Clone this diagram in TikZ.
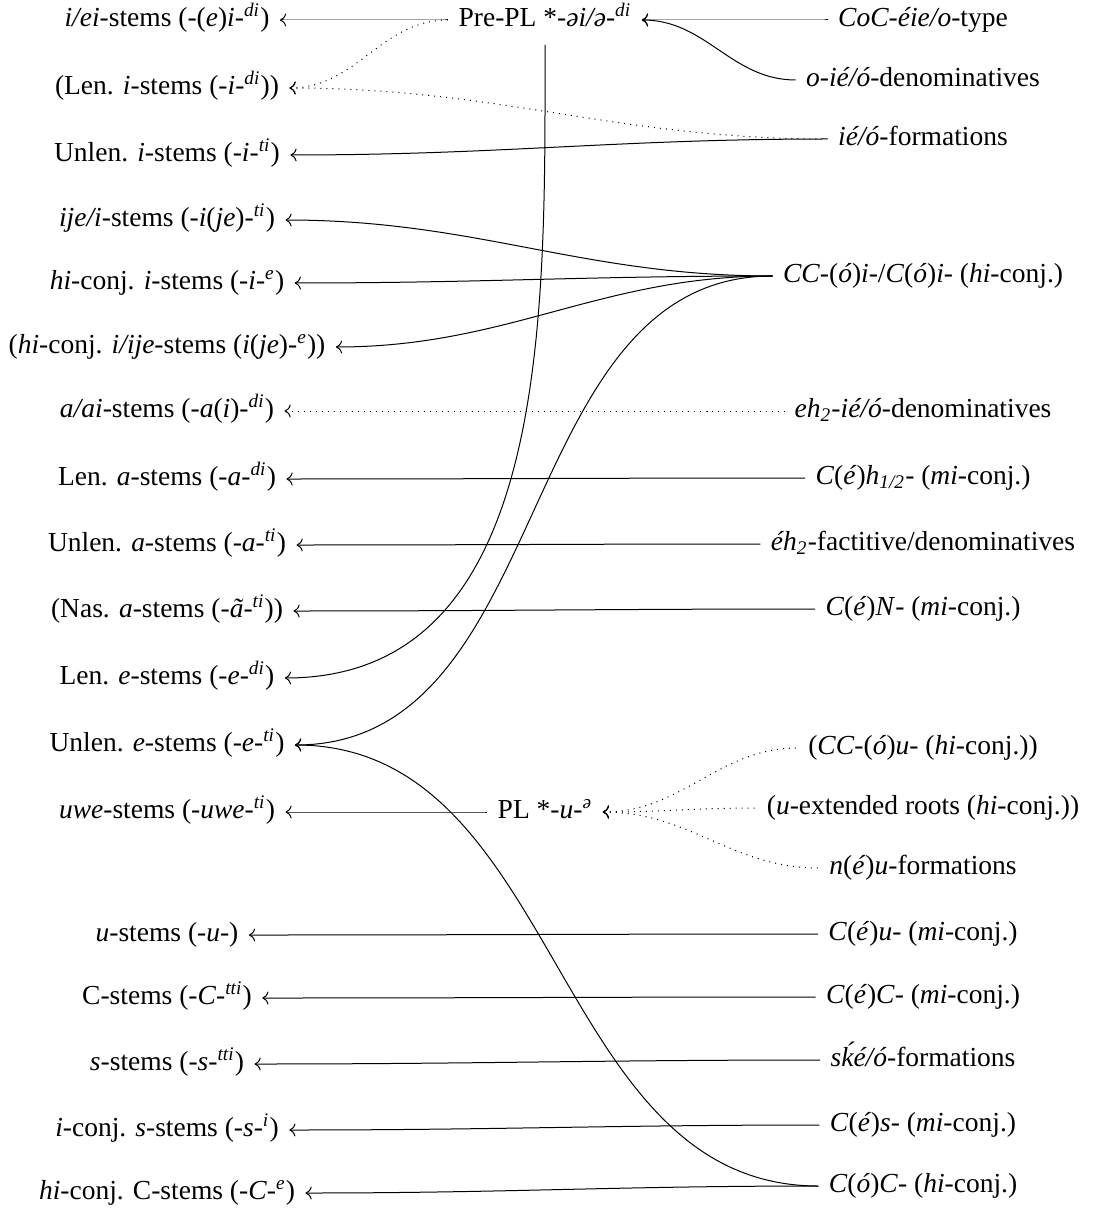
\documentclass[tikz,border=0pt]{standalone}
\usepackage{fontspec}
\setmainfont{Liberation Serif}
\usetikzlibrary{arrows.meta}

\begin{document}
\begin{tikzpicture}[x=0.4pt,y=-0.4pt,font=\fontsize{11}{13}\selectfont,
    lab/.style={inner sep=4pt,text height=8.5pt,text depth=3pt},
    link/.style={<-,out=0,in=180},
    weak/.style={link,dotted}]
  \useasboundingbox (0,0) rectangle (1094,1211);
  % Left column (stem classes)
  \node[lab] (L1) at (167,20) {\textit{i/ei}-stems (-(\textit{e})\textit{i}-\textsuperscript{\textit{di}})};
  \node[lab] (L2) at (167,88) {(Len. \textit{i}-stems (-\textit{i}-\textsuperscript{\textit{di}}))};
  \node[lab] (L3) at (167,155) {Unlen. \textit{i}-stems (-\textit{i}-\textsuperscript{\textit{ti}})};
  \node[lab] (L4) at (167,220) {\textit{ije/i}-stems (-\textit{i}(\textit{je})-\textsuperscript{\textit{ti}})};
  \node[lab] (L5) at (167,283) {\textit{hi}-conj. \textit{i}-stems (-\textit{i}-\textsuperscript{\textit{e}})};
  \node[lab] (L6) at (167,347) {(\textit{hi}-conj. \textit{i/ije}-stems (\textit{i}(\textit{je})-\textsuperscript{\textit{e}}))};
  \node[lab] (L7) at (167,411) {\textit{a/ai}-stems (-\textit{a}(\textit{i})-\textsuperscript{\textit{di}})};
  \node[lab] (L8) at (167,479) {Len. \textit{a}-stems (-\textit{a}-\textsuperscript{\textit{di}})};
  \node[lab] (L9) at (167,545) {Unlen. \textit{a}-stems (-\textit{a}-\textsuperscript{\textit{ti}})};
  \node[lab] (L10) at (167,611) {(Nas. \textit{a}-stems (-\textit{ã}-\textsuperscript{\textit{ti}}))};
  \node[lab] (L11) at (167,678) {Len. \textit{e}-stems (-\textit{e}-\textsuperscript{\textit{di}})};
  \node[lab] (L12) at (167,745) {Unlen. \textit{e}-stems (-\textit{e}-\textsuperscript{\textit{ti}})};
  \node[lab] (L13) at (167,812) {\textit{uwe}-stems (-\textit{uwe}-\textsuperscript{\textit{ti}})};
  \node[lab] (L14) at (167,935) {\textit{u}-stems (-\textit{u}-)};
  \node[lab] (L15) at (167,998) {C-stems (-\textit{C}-\textsuperscript{\textit{tti}})};
  \node[lab] (L16) at (167,1064) {\textit{s}-stems (-\textit{s}-\textsuperscript{\textit{tti}})};
  \node[lab] (L17) at (167,1130) {\textit{i}-conj. \textit{s}-stems (-\textit{s}-\textsuperscript{\textit{i}})};
  \node[lab] (L18) at (167,1193) {\textit{hi}-conj. C-stems (-\textit{C}-\textsuperscript{\textit{e}})};
  % Middle column
  \node[lab] (M1) at (545,20) {Pre-PL *-\textit{əi/ə}-\textsuperscript{\textit{di}}};
  \node[lab] (M2) at (545,812) {PL *-\textit{u}-\textsuperscript{\textit{ə}}};
  % Right column (formations)
  \node[lab] (R1) at (923,20) {\textit{CoC-éie/o}-type};
  \node[lab] (R2) at (923,80) {\textit{o-ié/ó}-denominatives};
  \node[lab] (R3) at (923,139) {\textit{ié/ó}-formations};
  \node[lab] (R4) at (923,276) {\textit{CC}-(\textit{ó})\textit{i}-/\textit{C}(\textit{ó})\textit{i}- (\textit{hi}-conj.)};
  \node[lab] (R5) at (923,411) {\textit{eh\textsubscript{2}-ié/ó}-denominatives};
  \node[lab] (R6) at (923,478) {\textit{C}(\textit{é})\textit{h\textsubscript{1/2}}- (\textit{mi}-conj.)};
  \node[lab] (R7) at (923,544) {\textit{éh\textsubscript{2}}-factitive/denominatives};
  \node[lab] (R8) at (923,609) {\textit{C}(\textit{é})\textit{N}- (\textit{mi}-conj.)};
  \node[lab] (R9) at (923,748) {(\textit{CC}-(\textit{ó})\textit{u}- (\textit{hi}-conj.))};
  \node[lab] (R10) at (923,808) {(\textit{u}-extended roots (\textit{hi}-conj.))};
  \node[lab] (R11) at (923,868) {\textit{n}(\textit{é})\textit{u}-formations};
  \node[lab] (R12) at (923,934) {\textit{C}(\textit{é})\textit{u}- (\textit{mi}-conj.)};
  \node[lab] (R13) at (923,997) {\textit{C}(\textit{é})\textit{C}- (\textit{mi}-conj.)};
  \node[lab] (R14) at (923,1060) {\textit{sḱé/ó}-formations};
  \node[lab] (R15) at (923,1125) {\textit{C}(\textit{é})\textit{s}- (\textit{mi}-conj.)};
  \node[lab] (R16) at (923,1186) {\textit{C}(\textit{ó})\textit{C}- (\textit{hi}-conj.)};
  % Links
  \foreach \a/\b in {L1/M1,L3/R3,L4/R4,L5/R4,L6/R4,L8/R6,L9/R7,L10/R8,L12/R4,L12/R16,
      L13/M2,L14/R12,L15/R13,L16/R14,L17/R15,L18/R16,M1/R1,M1/R2}{
    \draw[link] (\a.east) to (\b.west);
  }
  \foreach \a/\b in {L2/M1,L2/R3,L7/R5,M2/R9,M2/R10,M2/R11}{
    \draw[weak] (\a.east) to (\b.west);
  }
  \draw[<-] (L11.east) to[out=0,in=-90] (M1.south);
\end{tikzpicture}
\end{document}
